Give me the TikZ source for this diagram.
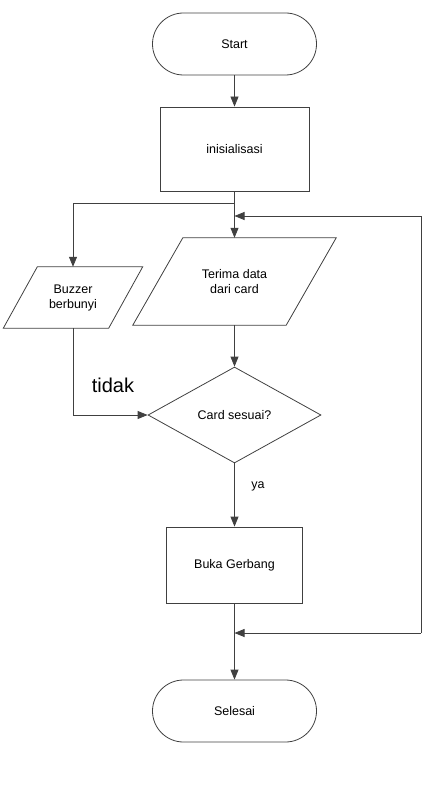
\documentclass[tikz,border=0pt]{standalone}
\usepackage{fontspec}
\setmainfont{Liberation Sans}
\usetikzlibrary{shapes.geometric, arrows.meta}

\begin{document}
\begin{tikzpicture}[x=1pt, y=-1pt,
	every node/.style={font=\fontsize{12.5}{15}\selectfont},
	terminal/.style={draw=black!75, line width=0.8pt, rounded corners=31pt, minimum width=164pt, minimum height=62pt},
	process/.style={draw=black!75, line width=0.8pt, minimum width=149pt, minimum height=84pt},
	io/.style={inner sep=0pt, align=center},
	decision/.style={draw=black!75, line width=0.8pt, diamond, inner sep=0pt, minimum width=173pt, minimum height=96pt},
	flow/.style={draw=black!75, line width=0.8pt, -{Triangle[length=10pt, width=8pt]}},
	line/.style={draw=black!75, line width=0.8pt}]

	\useasboundingbox (0,0) rectangle (427,789);

	\node[terminal] (start) at (234.5, 44) {Start};
	\node[process] (init) at (234.5, 149) {inisialisasi};
	\node[io, minimum width=153pt, minimum height=87pt] (terima) at (234.5, 281.5) {Terima data\\dari card};
	\node[io, minimum width=105pt, minimum height=61pt] (buzzer) at (73, 297.5) {Buzzer\\berbunyi};
	\node[decision] (cek) at (234.5, 415) {Card sesuai?};
	\node[process, minimum width=136pt, minimum height=76pt] (buka) at (234.5, 565) {Buka Gerbang};
	\node[terminal] (selesai) at (234.5, 711) {Selesai};

	\draw[line] ([xshift=25pt]terima.north west) -- ([xshift=25pt]terima.north east)
		-- ([xshift=-25pt]terima.south east) -- ([xshift=-25pt]terima.south west) -- cycle;
	\draw[line] ([xshift=17pt]buzzer.north west) -- ([xshift=17pt]buzzer.north east)
		-- ([xshift=-17pt]buzzer.south east) -- ([xshift=-17pt]buzzer.south west) -- cycle;

	\node[font=\fontsize{20}{24}\selectfont] (tidak) at (113, 385) {tidak};
	\node (ya) at (258, 486) {ya};

	\coordinate (split) at (234.5, 203);
	\coordinate (loopin) at (234.5, 216);
	\coordinate (loopout) at (234.5, 633);
	\coordinate (rtop) at (421, 216);
	\coordinate (rbot) at (421, 633);

	\draw[flow] (start) -- (init);
	\draw[flow] (init) -- (terima);
	\draw[flow] (split) -| (buzzer.north);
	\draw[flow] (rbot) -- (rtop) -- (loopin);
	\draw[flow] (terima) -- (cek);
	\draw[flow] (buzzer.south) |- (cek.west);
	\draw[flow] (cek) -- (buka);
	\draw[flow] (buka) -- (selesai);
	\draw[flow] (rbot) -- (loopout);

\end{tikzpicture}
\end{document}
